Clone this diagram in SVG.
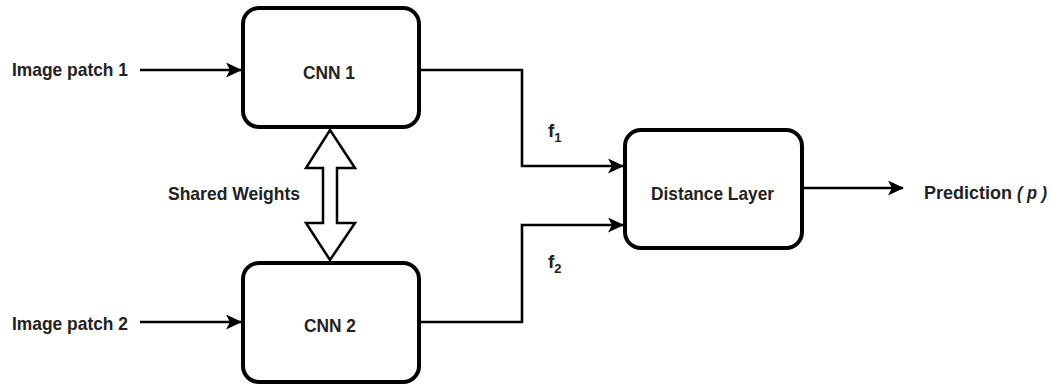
<svg xmlns="http://www.w3.org/2000/svg" width="1051" height="385" viewBox="0 0 1051 385">
<style>
.box{fill:#fff;stroke:#000;stroke-width:4}
.t{font-family:"Liberation Sans",Arial,sans-serif;font-weight:bold;font-size:19px;fill:#222;}
.c{stroke:#000;stroke-width:2.6;fill:none}
</style>
<defs>
<marker id="ah" viewBox="0 0 16 15" refX="15" refY="7.5" markerWidth="16" markerHeight="15" markerUnits="userSpaceOnUse" orient="auto">
<path d="M0,0 L16,7.5 L0,15 L4,7.5 Z" fill="#000"/>
</marker>
</defs>
<g id="connectors">
<line class="c" x1="140" y1="70" x2="241" y2="70" marker-end="url(#ah)"/>
<line class="c" x1="140" y1="322" x2="241" y2="322" marker-end="url(#ah)"/>
<polyline class="c" points="419,70 522,70 522,166 623,166" marker-end="url(#ah)"/>
<polyline class="c" points="419,322 522,322 522,225 623,225" marker-end="url(#ah)"/>
<line class="c" x1="802" y1="188" x2="903" y2="188" marker-end="url(#ah)"/>
<path d="M330,130 L355,168 L337,168 L337,223 L355,223 L330,260 L306,223 L323,223 L323,168 L306,168 Z" fill="#fff" stroke="#000" stroke-width="2.5" stroke-linejoin="miter"/>
<text class="t" x="548" y="137">f<tspan font-size="13" dy="5">1</tspan></text>
<text class="t" x="548" y="268">f<tspan font-size="13" dy="5">2</tspan></text>
<text class="t" x="168" y="200" textLength="132" lengthAdjust="spacingAndGlyphs">Shared Weights</text>
</g>
<g id="input1"><text class="t" x="12" y="76" textLength="116" lengthAdjust="spacingAndGlyphs">Image patch 1</text></g>
<g id="input2"><text class="t" x="12" y="330" textLength="116" lengthAdjust="spacingAndGlyphs">Image patch 2</text></g>
<g id="cnn1"><rect class="box" x="243" y="8" width="176" height="119" rx="16"/><text class="t" x="303" y="79" textLength="52" lengthAdjust="spacingAndGlyphs">CNN 1</text></g>
<g id="cnn2"><rect class="box" x="243" y="263" width="176" height="119" rx="16"/><text class="t" x="304" y="332" textLength="52" lengthAdjust="spacingAndGlyphs">CNN 2</text></g>
<g id="distance"><rect class="box" x="625" y="130" width="177" height="118" rx="16"/><text class="t" x="651" y="200" textLength="123" lengthAdjust="spacingAndGlyphs">Distance Layer</text></g>
<g id="prediction"><text class="t" y="199"><tspan x="924" textLength="88" lengthAdjust="spacingAndGlyphs">Prediction</tspan><tspan x="1017" font-style="italic" textLength="30" lengthAdjust="spacingAndGlyphs">( p )</tspan></text></g>
</svg>
